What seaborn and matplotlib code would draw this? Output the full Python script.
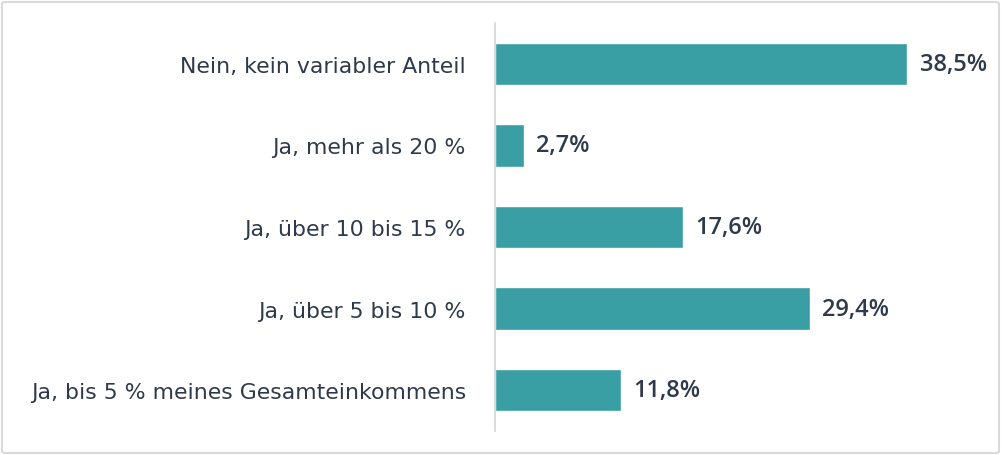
import matplotlib
matplotlib.use('Agg')
import matplotlib.pyplot as plt
import seaborn as sns
import pandas as pd
from matplotlib.patches import FancyBboxPatch

# Daten
kategorien = ['Nein, kein variabler Anteil', 'Ja, mehr als 20 %', 'Ja, über 10 bis 15 %',
              'Ja, über 5 bis 10 %', 'Ja, bis 5 % meines Gesamteinkommens']
werte = [38.5, 2.7, 17.6, 29.4, 11.8]
beschriftungen = ['38,5%', '2,7%', '17,6%', '29,4%', '11,8%']

df = pd.DataFrame({'Kategorie': kategorien, 'Wert': werte})

sns.set_style('white')
plt.rcParams['font.family'] = ['DejaVu Sans']

teal = '#3A9EA5'
textfarbe = '#2E3A4B'

fig = plt.figure(figsize=(10.02, 4.56), dpi=100)
ax = fig.add_axes([495 / 1002, 24 / 456, 500 / 1002, 408 / 456])

sns.barplot(data=df, x='Wert', y='Kategorie', color=teal, width=0.52,
            saturation=1, ax=ax)

ax.set_xlim(0, 46.7)
ax.set_ylim(4.5, -0.5)
ax.set_xlabel('')
ax.set_ylabel('')
ax.set_xticks([])

for s in ['top', 'right', 'bottom']:
    ax.spines[s].set_visible(False)
ax.spines['left'].set_color('#d4d4d4')
ax.spines['left'].set_linewidth(1.2)

ax.tick_params(axis='y', length=0, pad=21, labelsize=15.8, labelcolor=textfarbe)

for i, (w, t) in enumerate(zip(werte, beschriftungen)):
    ax.text(w + 1.15, i, t, va='center', ha='left', fontsize=17,
            color=textfarbe, fontweight='semibold', family=['Open Sans', 'DejaVu Sans'])

# Rahmen um die Grafik
rahmen = FancyBboxPatch((2 / 1002, 2 / 456), 997 / 1002, 451 / 456,
                        boxstyle='round,pad=0,rounding_size=0.004',
                        transform=fig.transFigure, fill=False,
                        edgecolor='#d9d9d9', linewidth=1.5)
fig.patches.append(rahmen)

fig.savefig('out.png', dpi=100)
